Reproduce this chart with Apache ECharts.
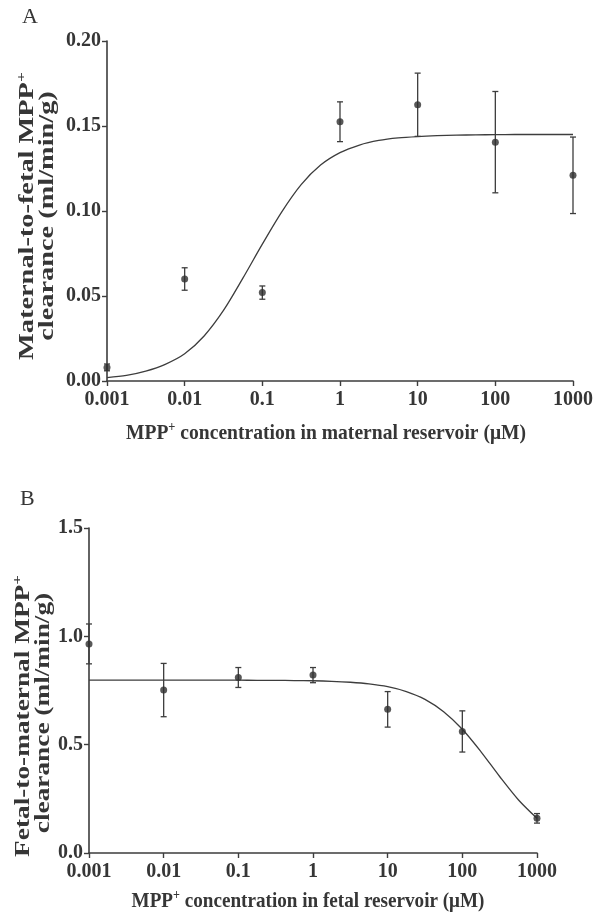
<!DOCTYPE html>
<html>
<head>
<meta charset="utf-8">
<script src="https://cdn.jsdelivr.net/npm/echarts@6/dist/echarts.min.js"></script>
<style>
html,body{margin:0;padding:0;background:#fff;}
#chart{width:606px;height:917px;}
</style>
</head>
<body>
<div id="chart"></div>
<script>
// ---- Data ----
var xTickLabels = ['0.001', '0.01', '0.1', '1', '10', '100', '1000'];
var concA = [0.001, 0.01, 0.1, 1, 10, 100, 1000];
var meanA = [0.008, 0.060, 0.052, 0.1525, 0.1625, 0.1405, 0.121];
var semA  = [0.002, 0.0066, 0.0039, 0.0117, 0.0186, 0.0298, 0.0225];
var yTicksA = [0, 0.05, 0.10, 0.15, 0.20];

var concB = [0.001, 0.01, 0.1, 1, 10, 100, 1000];
var meanB = [0.965, 0.752, 0.810, 0.821, 0.663, 0.561, 0.160];
var semB  = [0.092, 0.123, 0.046, 0.035, 0.082, 0.095, 0.022];
var yTicksB = [0, 0.5, 1.0, 1.5];

// fitted curves at quarter-decade steps
var curveX = [0.001, 0.00178, 0.00316, 0.00562, 0.01, 0.0178, 0.0316, 0.0562, 0.1, 0.178, 0.316, 0.562,
              1, 1.78, 3.16, 5.62, 10, 17.8, 31.6, 56.2, 100, 178, 316, 562, 1000];
var curveA = [0.0020, 0.0033, 0.0058, 0.0098, 0.0160, 0.0265, 0.0415, 0.0605, 0.0805, 0.0995, 0.1155, 0.1270,
              0.1343, 0.1388, 0.1415, 0.1430, 0.1438, 0.1443, 0.1446, 0.1448, 0.1449, 0.1450, 0.1450, 0.1450, 0.1450];
var curveB = [0.798, 0.798, 0.798, 0.798, 0.798, 0.798, 0.798, 0.7978, 0.7975, 0.797, 0.7965, 0.796,
              0.795, 0.7925, 0.788, 0.7805, 0.7675, 0.745, 0.709, 0.652, 0.571, 0.467, 0.353, 0.246, 0.160];

// ---- Styles ----
var FONT = '"Liberation Serif", "Times New Roman", serif';
var TXT = '#363636';
var LINE = '#3d3d3d';

function pairs(xs, ys) { return xs.map(function (x, i) { return [x, ys[i]]; }); }
function errData(xs, m, s) { return xs.map(function (x, i) { return [x, m[i] - s[i], m[i] + s[i]]; }); }

function errRender(params, api) {
  var x = api.value(0), lo = api.value(1), hi = api.value(2);
  var p1 = api.coord([x, hi]);
  var p2 = api.coord([x, lo]);
  var w = 3;
  var st = { stroke: LINE, lineWidth: 1.3 };
  return {
    type: 'group',
    children: [
      { type: 'line', shape: { x1: p1[0], y1: p1[1], x2: p2[0], y2: p2[1] }, style: st },
      { type: 'line', shape: { x1: p1[0] - w, y1: p1[1], x2: p1[0] + w, y2: p1[1] }, style: st },
      { type: 'line', shape: { x1: p2[0] - w, y1: p2[1], x2: p2[0] + w, y2: p2[1] }, style: st }
    ]
  };
}

function xAxisCfg(gridIndex) {
  return {
    type: 'log', logBase: 10, min: 0.001, max: 1000, gridIndex: gridIndex,
    axisLine: { lineStyle: { color: LINE, width: 1.6 } },
    axisTick: { show: true, length: 5, inside: false, lineStyle: { color: LINE, width: 1.4 } },
    minorTick: { show: false },
    splitLine: { show: false },
    axisLabel: {
      margin: 9, color: TXT, fontFamily: FONT, fontWeight: 'bold', fontSize: 20,
      formatter: function (v) {
        var k = Math.round(Math.log(v) / Math.LN10) + 3;
        return xTickLabels[k] !== undefined ? xTickLabels[k] : '';
      }
    }
  };
}
function yAxisCfg(gridIndex, ticks, dec) {
  return {
    type: 'value', gridIndex: gridIndex, min: ticks[0], max: ticks[ticks.length - 1],
    interval: ticks[1] - ticks[0],
    axisLine: { show: true, lineStyle: { color: LINE, width: 1.6 } },
    axisTick: { show: true, length: 5, inside: false, lineStyle: { color: LINE, width: 1.4 } },
    splitLine: { show: false },
    axisLabel: {
      margin: 6, color: TXT, fontFamily: FONT, fontWeight: 'bold', fontSize: 20,
      formatter: function (v) { return v.toFixed(dec); }
    }
  };
}

function richFor(size) {
  return {
    n: { fontFamily: FONT, fontWeight: 'bold', fontSize: size, lineHeight: size + 4, fill: TXT },
    s: { fontFamily: FONT, fontWeight: 'bold', fontSize: Math.round(size * 0.62), lineHeight: Math.round(size * 0.62),
         verticalAlign: 'top', fill: TXT }
  };
}
function gtext(x, y, txt, rot, size, sx) {
  return {
    type: 'text', x: x, y: y, rotation: rot || 0, scaleX: sx || 1,
    style: { text: txt, rich: richFor(size), align: 'center', verticalAlign: 'middle', fill: TXT }
  };
}

var chart = echarts.init(document.getElementById('chart'), null, { renderer: 'canvas' });
chart.setOption({
  backgroundColor: '#fff',
  animation: false,
  grid: [
    { left: 107, top: 41, width: 466, height: 340 },
    { left: 89, top: 528, width: 448, height: 325 }
  ],
  xAxis: [xAxisCfg(0), xAxisCfg(1)],
  yAxis: [yAxisCfg(0, yTicksA, 2), yAxisCfg(1, yTicksB, 1)],
  series: [
    { type: 'line', xAxisIndex: 0, yAxisIndex: 0, data: pairs(curveX, curveA), smooth: 0.3, showSymbol: false,
      lineStyle: { color: LINE, width: 1.3 }, z: 2 },
    { type: 'custom', xAxisIndex: 0, yAxisIndex: 0, data: errData(concA, meanA, semA), renderItem: errRender, z: 3, clip: false },
    { type: 'scatter', xAxisIndex: 0, yAxisIndex: 0, data: pairs(concA, meanA), symbol: 'circle', symbolSize: 7,
      itemStyle: { color: '#2e2e2e' }, z: 4, clip: false },
    { type: 'line', xAxisIndex: 1, yAxisIndex: 1, data: pairs(curveX, curveB), smooth: 0.3, showSymbol: false,
      lineStyle: { color: LINE, width: 1.3 }, z: 2 },
    { type: 'custom', xAxisIndex: 1, yAxisIndex: 1, data: errData(concB, meanB, semB), renderItem: errRender, z: 3, clip: false },
    { type: 'scatter', xAxisIndex: 1, yAxisIndex: 1, data: pairs(concB, meanB), symbol: 'circle', symbolSize: 7,
      itemStyle: { color: '#2e2e2e' }, z: 4, clip: false }
  ],
  graphic: [
    { type: 'text', left: 22, top: 6, style: { text: 'A', font: 'normal 22px ' + FONT, fill: TXT } },
    { type: 'text', left: 20, top: 488, style: { text: 'B', font: 'normal 22px ' + FONT, fill: TXT } },
    gtext(326, 433, '{n|MPP}{s|+}{n| concentration in maternal reservoir (μM)}', 0, 22, 0.89),
    gtext(308, 901, '{n|MPP}{s|+}{n| concentration in fetal reservoir (μM)}', 0, 22, 0.87),
    gtext(28, 216, '{n|Maternal-to-fetal MPP}{s|+}', Math.PI / 2, 21, 1.35),
    gtext(48, 216, '{n|clearance (ml/min/g)}', Math.PI / 2, 21, 1.35),
    gtext(24, 716, '{n|Fetal-to-maternal MPP}{s|+}', Math.PI / 2, 21, 1.3),
    gtext(44, 713, '{n|clearance (ml/min/g)}', Math.PI / 2, 21, 1.3)
  ]
});
</script>
</body>
</html>
